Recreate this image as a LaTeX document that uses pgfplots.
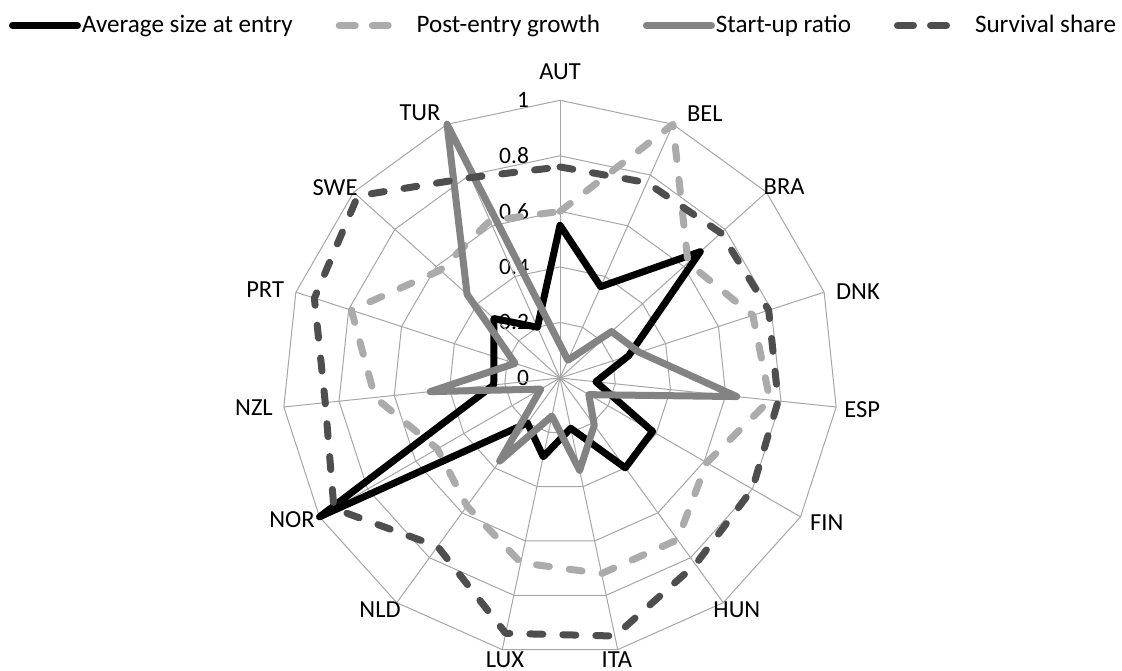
\documentclass[border=0pt]{standalone}
\usepackage{fontspec}
\setmainfont{Carlito}
\usepackage{pgfplots}
\pgfplotsset{compat=1.18}
\usepackage{pgfplotstable}

\definecolor{gridc}{HTML}{A6A6A6}
\definecolor{postc}{HTML}{ABABAB}
\definecolor{startc}{HTML}{838383}
\definecolor{survc}{HTML}{4E4E4E}

\pgfplotsset{
  solidleg/.style={legend image code/.code={\path[draw=none] (0bp,0bp) -- (36bp,0bp); \draw[##1] (1.75bp,0bp) -- (34.25bp,0bp);}},
  dashleg/.style={legend image code/.code={\path[draw=none] (0bp,0bp) -- (40bp,0bp); \draw[##1, dash pattern=on 8bp off 8.5bp] (1.75bp,0bp) -- (26.25bp,0bp);}},
}

% angle (deg, AUT at top, clockwise), then the four series
\pgfplotstableread{
ang  avg   post  start surv
90   0.55  0.60  0.12  0.76
66   0.36  1.00  0.07  0.77
42   0.68  0.62  0.25  0.78
18   0.26  0.73  0.30  0.79
-6   0.13  0.76  0.64  0.79
-30  0.385 0.61  0.12  0.80
-54  0.40  0.72  0.21  0.83
-78  0.185 0.72  0.34  0.95
-102 0.29  0.68  0.14  0.94
-126 0.20  0.57  0.37  0.75
-150 1.00  0.51  0.08  0.94
-174 0.24  0.67  0.47  0.85
162  0.25  0.79  0.17  0.93
138  0.32  0.58  0.45  0.98
114  0.20  0.62  1.00  0.79
90   0.55  0.60  0.12  0.76
}\radardata

\begin{document}
\begin{tikzpicture}[font=\fontsize{12.3}{14}\selectfont]
\begin{axis}[
  x=138.85bp, y=138.85bp,
  xmin=-2.0166, xmax=2.0238, ymin=-1.0551, ymax=1.3612,
  hide axis, clip=false,
  legend columns=4,
  legend style={draw=none, fill=none, inner sep=0pt, outer sep=0pt,
    at={(0.008,0.962)}, anchor=west,
    nodes={inner sep=0.5bp}, font=\fontsize{12.6}{14}\selectfont},
]
\path (axis cs:-2.0166,-1.0551) rectangle (axis cs:2.0238,1.3612);

% radial tick labels
\node[anchor=east, font=\fontsize{11.8}{14}\selectfont] at (axis cs:-0.0864,0) {0};
\node[anchor=east, font=\fontsize{11.8}{14}\selectfont] at (axis cs:-0.0864,0.2) {0.2};
\node[anchor=east, font=\fontsize{11.8}{14}\selectfont] at (axis cs:-0.0864,0.4) {0.4};
\node[anchor=east, font=\fontsize{11.8}{14}\selectfont] at (axis cs:-0.0864,0.6) {0.6};
\node[anchor=east, font=\fontsize{11.8}{14}\selectfont] at (axis cs:-0.0864,0.8) {0.8};
\node[anchor=east, font=\fontsize{11.8}{14}\selectfont] at (axis cs:-0.0864,1) {1};

% polygon grid
\pgfplotsinvokeforeach{0.2,0.4,0.6,0.8,1}{
  \addplot[gridc, line width=0.5bp, data cs=polar, forget plot] coordinates {(90,#1) (66,#1) (42,#1) (18,#1) (-6,#1) (-30,#1) (-54,#1) (-78,#1) (-102,#1) (-126,#1) (-150,#1) (-174,#1) (162,#1) (138,#1) (114,#1) (90,#1)};
}
\pgfplotsinvokeforeach{90,66,42,18,-6,-30,-54,-78,-102,-126,-150,-174,162,138,114}{
  \addplot[gridc, line width=0.5bp, data cs=polar, forget plot] coordinates {(#1,0) (#1,1)};
}

\addplot[black, line width=3.5bp, line join=round, line cap=round, data cs=polar, solidleg]
  table[x=ang, y=avg] {\radardata};
\addlegendentry{Average size at entry\hspace*{21bp}}
\addplot[postc, line width=3.5bp, line join=round, line cap=round, dash pattern=on 6.5bp off 10bp, data cs=polar, dashleg]
  table[x=ang, y=post] {\radardata};
\addlegendentry{Post-entry growth\hspace*{21bp}}
\addplot[startc, line width=3.5bp, line join=round, line cap=round, data cs=polar, solidleg]
  table[x=ang, y=start] {\radardata};
\addlegendentry{Start-up ratio\hspace*{21bp}}
\addplot[survc, line width=3.5bp, line join=round, line cap=round, dash pattern=on 6.5bp off 10bp, data cs=polar, dashleg]
  table[x=ang, y=surv] {\radardata};
\addlegendentry{Survival share}

% category labels
\node at (axis cs:0,1.102) {AUT};
\node at (axis cs:0.522,0.951) {BEL};
\node at (axis cs:0.807,0.688) {BRA};
\node at (axis cs:1.073,0.31) {DNK};
\node at (axis cs:1.088,-0.115) {ESP};
\node at (axis cs:0.961,-0.522) {FIN};
\node at (axis cs:0.637,-0.835) {HUN};
\node at (axis cs:0.205,-1.015) {ITA};
\node at (axis cs:-0.198,-1.015) {LUX};
\node at (axis cs:-0.648,-0.835) {NLD};
\node at (axis cs:-0.965,-0.511) {NOR};
\node at (axis cs:-1.102,-0.108) {NZL};
\node at (axis cs:-1.062,0.317) {PRT};
\node at (axis cs:-0.81,0.684) {SWE};
\node at (axis cs:-0.504,0.954) {TUR};
\end{axis}
\pgfresetboundingbox
\path[use as bounding box] (current axis.south west) rectangle (current axis.north east);
\end{tikzpicture}
\end{document}
